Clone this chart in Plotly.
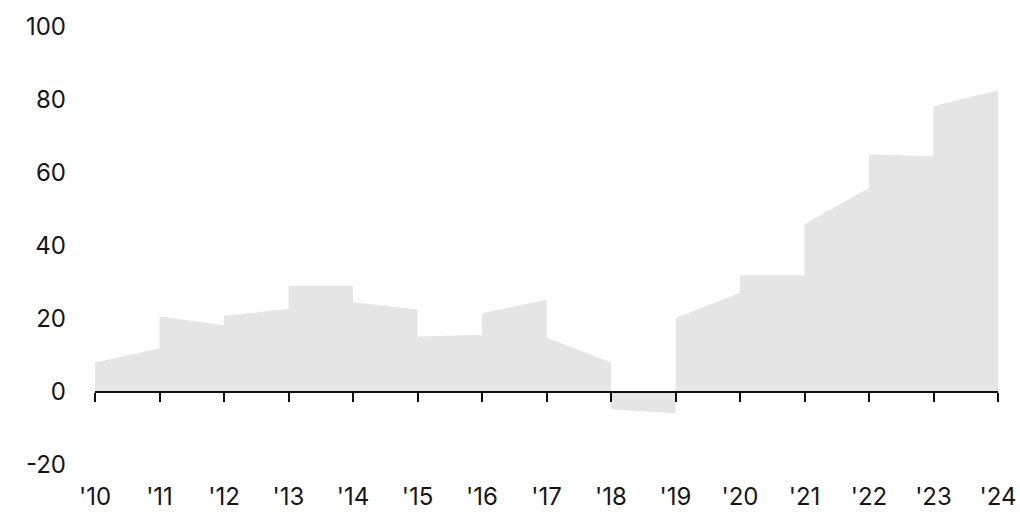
import plotly.graph_objects as go

# Year-by-year values: each year's segment runs from its opening value to its closing value
years = ["'10", "'11", "'12", "'13", "'14", "'15", "'16", "'17", "'18", "'19",
         "'20", "'21", "'22", "'23", "'24"]
start_vals = [8.1, 20.7, 20.8, 29.1, 24.6, 15.2, 21.6, 14.9, -4.7, 20.2, 32.0, 46.0, 65.1, 78.3]
end_vals = [11.9, 18.3, 22.8, 29.1, 22.6, 15.7, 25.3, 8.1, -5.8, 27.2, 32.0, 55.9, 64.6, 82.7]

y_ticks = [-20, 0, 20, 40, 60, 80, 100]
y_labels = ["-20", "0", "20", "40", "60", "80", "100"]
y_range = [-20, 100]

# Build the stepped outline: a sloped segment inside each year, vertical jump at each boundary
xs, ys = [], []
for i, (s, e) in enumerate(zip(start_vals, end_vals)):
    xs += [i, i + 1]
    ys += [s, e]

FONT = "Inter"
FONT_SIZE = 24
fig = go.Figure()
fig.add_trace(go.Scatter(
    x=xs, y=ys, mode="lines", line=dict(width=0, color="#e5e5e5"),
    fill="tozeroy", fillcolor="#e5e5e5", hoverinfo="skip", showlegend=False,
))
# invisible trace so the zero-line axis is created
fig.add_trace(go.Scatter(x=[0, len(years) - 1], y=[0, 0], xaxis="x2", mode="lines",
                         line=dict(width=0), hoverinfo="skip", showlegend=False))

zero_pos = (0 - y_range[0]) / (y_range[1] - y_range[0])

fig.update_layout(
    width=1020, height=516,
    margin=dict(l=95, r=22, t=27, b=51),
    paper_bgcolor="white", plot_bgcolor="white",
    font=dict(family=FONT, size=FONT_SIZE, color="#161616"),
    xaxis=dict(
        range=[0, len(years) - 1], tickvals=list(range(len(years))), ticktext=years,
        showline=False, showgrid=False, zeroline=False, ticks="", automargin=False,
        ticklabelstandoff=15, tickfont=dict(size=FONT_SIZE),
    ),
    xaxis2=dict(
        overlaying="x", anchor="free", position=zero_pos, side="bottom",
        range=[0, len(years) - 1], tickvals=list(range(len(years))),
        showticklabels=False, showline=True, linecolor="#111111", linewidth=2,
        ticks="outside", ticklen=9, tickwidth=2, tickcolor="#111111",
        showgrid=False, zeroline=False, automargin=False,
    ),
    yaxis=dict(
        range=y_range, tickvals=y_ticks, ticktext=y_labels, showgrid=False,
        zeroline=False, showline=False, ticks="", automargin=False,
        ticklabelstandoff=28, tickfont=dict(size=FONT_SIZE),
    ),
)

fig.write_html("out.html")
